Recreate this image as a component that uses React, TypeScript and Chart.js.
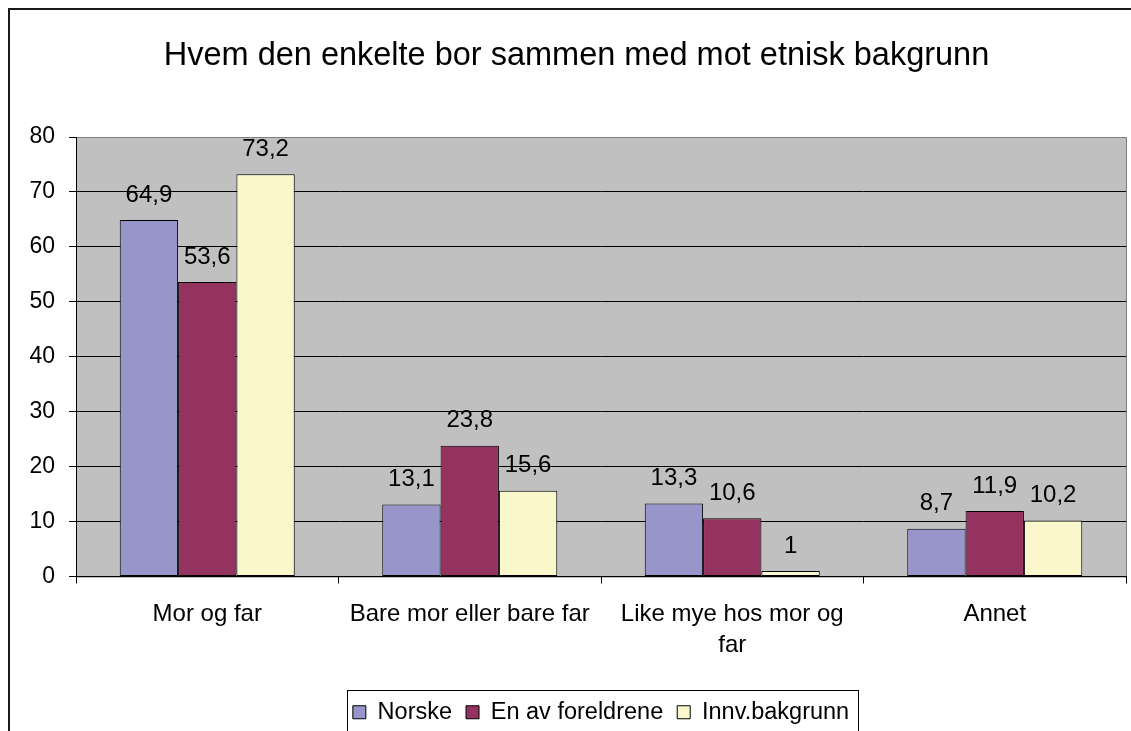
import React, { useEffect, useRef } from "react";
import { Chart, registerables } from "chart.js";

Chart.register(...registerables);

const chartTitle = "Hvem den enkelte bor sammen med mot etnisk bakgrunn";
const categories = [
  ["Mor og far"],
  ["Bare mor eller bare far"],
  ["Like mye hos mor og", "far"],
  ["Annet"],
];
const seriesNames = ["Norske", "En av foreldrene", "Innv.bakgrunn"];
const norske = [64.9, 13.1, 13.3, 8.7];
const enAvForeldrene = [53.6, 23.8, 10.6, 11.9];
const innvBakgrunn = [73.2, 15.6, 1, 10.2];
const seriesColors = ["#9795C9", "#943260", "#FAF7CD"];
const yMin = 0;
const yMax = 80;
const yStep = 10;

const FONT = "'Liberation Sans', Arial, sans-serif";

const decorPlugin = {
  id: "decor",
  beforeDraw(chart: any) {
    const { ctx, chartArea: a } = chart;
    ctx.save();
    ctx.fillStyle = "#ffffff";
    ctx.fillRect(0, 0, chart.width, chart.height);
    // outer frame
    ctx.strokeStyle = "#1a1a1a";
    ctx.lineWidth = 2;
    ctx.strokeRect(9, 9, 1135, 741);
    // plot background
    ctx.fillStyle = "#C0C0C0";
    ctx.fillRect(a.left, a.top, a.right - a.left, a.bottom - a.top);
    ctx.strokeStyle = "#808080";
    ctx.lineWidth = 1;
    ctx.strokeRect(a.left + 0.5, a.top + 0.5, a.right - a.left, a.bottom - a.top);
    ctx.restore();
  },
  afterDatasetsDraw(chart: any) {
    const { ctx } = chart;
    ctx.save();
    ctx.fillStyle = "#000";
    ctx.font = `24px ${FONT}`;
    ctx.textAlign = "center";
    ctx.textBaseline = "middle";
    chart.data.datasets.forEach((ds: any, i: number) => {
      const meta = chart.getDatasetMeta(i);
      meta.data.forEach((el: any, j: number) => {
        const v = ds.data[j];
        const txt = String(v).replace(".", ",");
        ctx.fillText(txt, el.x, el.y - 25);
      });
    });
    ctx.restore();
  },
  afterDraw(chart: any) {
    const lg = chart.legend;
    if (!lg || !lg.legendHitBoxes || !lg.legendHitBoxes.length) return;
    const hb = lg.legendHitBoxes;
    const first = hb[0];
    const last = hb[hb.length - 1];
    const fontSize = 23.5;
    const center = first.top + fontSize / 2;
    const { ctx } = chart;
    ctx.save();
    ctx.strokeStyle = "#000";
    ctx.lineWidth = 1;
    const left = Math.round(first.left - 6) + 0.5;
    const right = Math.round(last.left + last.width + 9) + 0.5;
    const top = Math.round(center - 22) + 0.5;
    ctx.strokeRect(left, top, right - left, 60);
    ctx.restore();
  },
};

export default function App() {
  const ref = useRef<HTMLCanvasElement | null>(null);

  useEffect(() => {
    if (!ref.current) return;
    Chart.defaults.font.family = FONT;
    Chart.defaults.color = "#000";
    const data = [norske, enAvForeldrene, innvBakgrunn];
    const chart = new Chart(ref.current, {
      type: "bar",
      data: {
        labels: categories as any,
        datasets: seriesNames.map((name, i) => ({
          label: name,
          data: data[i],
          backgroundColor: seriesColors[i],
          borderColor: "#000",
          borderWidth: 1,
          borderSkipped: false,
          categoryPercentage: 3 / 4.5,
          barPercentage: 1,
        })),
      },
      options: {
        responsive: false,
        animation: false,
        events: [],
        devicePixelRatio: 1,
        layout: { padding: { left: 27, right: 27, top: 0, bottom: 26 } },
        plugins: {
          title: {
            display: true,
            text: chartTitle,
            color: "#000",
            font: { size: 32.5, weight: "normal", lineHeight: 1.2, family: FONT },
            padding: { top: 37, bottom: 61 },
          },
          legend: {
            display: true,
            position: "bottom",
            fullSize: false,
            labels: {
              boxWidth: 13,
              boxHeight: 13,
              padding: 14,
              color: "#000",
              font: { size: 23.5, family: FONT },
            },
          },
          tooltip: { enabled: false },
        },
        scales: {
          x: {
            ticks: {
              padding: 15,
              color: "#000",
              font: { size: 24, lineHeight: 1.3, family: FONT },
              maxRotation: 0,
              minRotation: 0,
              autoSkip: false,
            },
            grid: {
              display: true,
              drawOnChartArea: false,
              drawTicks: true,
              tickLength: 7,
              color: "#000",
              offset: true,
            },
            border: { display: true, color: "#000", width: 1 },
            afterFit: (s: any) => {
              s.height = 110;
            },
          },
          y: {
            min: yMin,
            max: yMax,
            ticks: {
              stepSize: yStep,
              padding: 14,
              color: "#000",
              font: { size: 23, family: FONT },
            },
            grid: {
              color: (c: any) => (c.tick && c.tick.value === yMax ? "#808080" : "#000"),
              tickColor: "#000",
              tickLength: 7,
              lineWidth: 1,
            },
            border: { display: true, color: "#000", width: 1 },
            afterFit: (s: any) => {
              s.width = 49;
            },
          },
        },
      },
      plugins: [decorPlugin],
    } as any);
    return () => chart.destroy();
  }, []);

  return (
    <div
      style={{
        position: "fixed",
        left: 0,
        top: 0,
        width: 1131,
        height: 731,
        overflow: "hidden",
        background: "#fff",
      }}
    >
      <canvas ref={ref} width={1153} height={760} style={{ display: "block" }} />
    </div>
  );
}
